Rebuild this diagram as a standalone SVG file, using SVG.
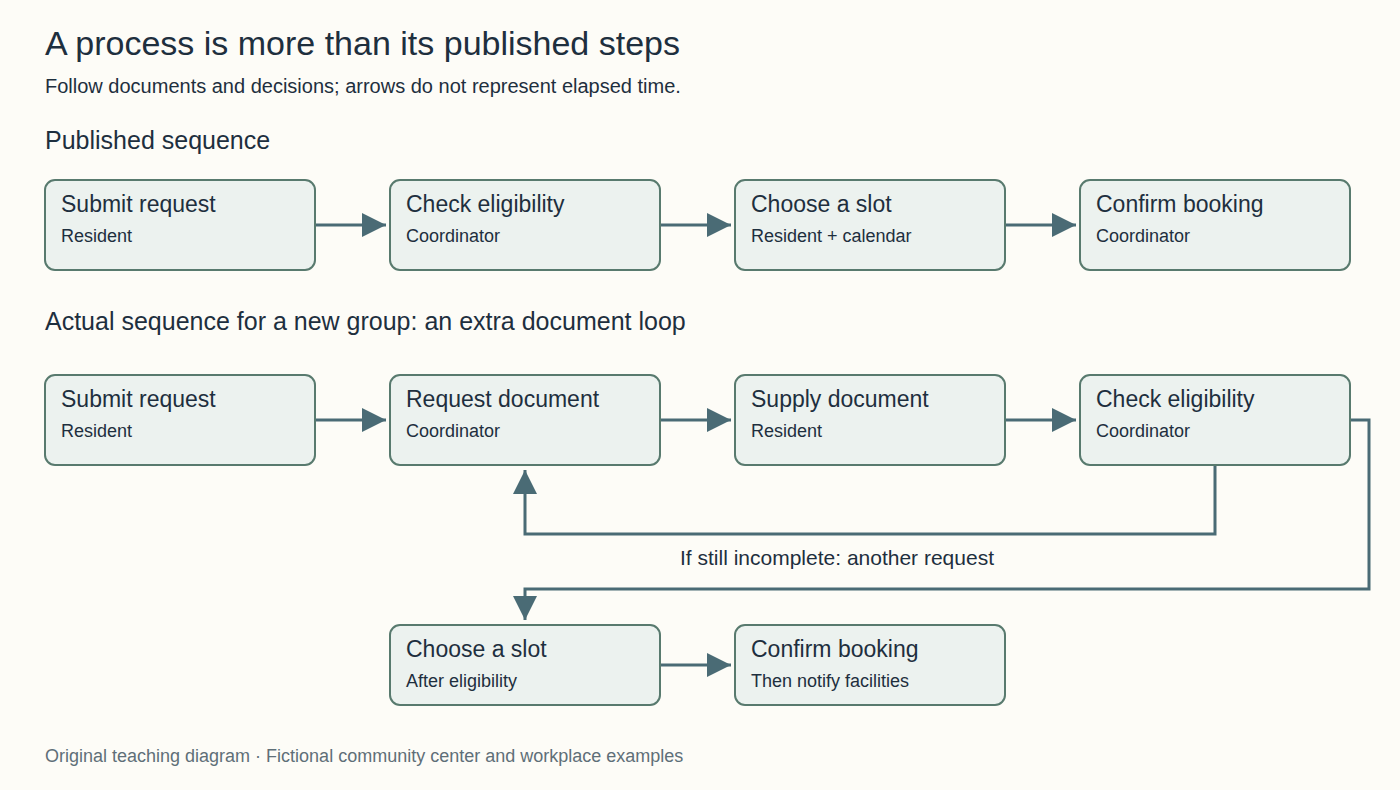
<svg xmlns="http://www.w3.org/2000/svg" width="1400" height="790" viewBox="0 0 1400 790">
<style>
text{font-family:"Liberation Sans",Arial,sans-serif;fill:#1e2f3e}
.title{font-size:34px}
.sub{font-size:20px}
.sec{font-size:25px}
.nt{font-size:23px}
.ns{font-size:18px}
.foot{font-size:18px;fill:#5f6f78}
.lbl{font-size:21px}
.box{fill:#ecf2ef;stroke:#587a6e;stroke-width:2}
.c{fill:none;stroke:#4a6b75;stroke-width:3}
</style>
<defs>
<marker id="ah" viewBox="0 0 24 24" refX="24" refY="12" markerWidth="24" markerHeight="24" markerUnits="userSpaceOnUse" orient="auto">
<path d="M0,0 L24,12 L0,24 Z" fill="#4a6b75"/>
</marker>
</defs>
<rect width="1400" height="790" fill="#fdfcf7"/>
<text class="title" x="45" y="55">A process is more than its published steps</text>
<text class="sub" x="45" y="93">Follow documents and decisions; arrows do not represent elapsed time.</text>
<text class="sec" x="45" y="149">Published sequence</text>
<text class="sec" x="45" y="330">Actual sequence for a new group: an extra document loop</text>

<g id="connectors">
<line class="c" x1="315" y1="225" x2="386" y2="225" marker-end="url(#ah)"/>
<line class="c" x1="660" y1="225" x2="731" y2="225" marker-end="url(#ah)"/>
<line class="c" x1="1005" y1="225" x2="1076" y2="225" marker-end="url(#ah)"/>
<line class="c" x1="315" y1="420" x2="386" y2="420" marker-end="url(#ah)"/>
<line class="c" x1="660" y1="420" x2="731" y2="420" marker-end="url(#ah)"/>
<line class="c" x1="1005" y1="420" x2="1076" y2="420" marker-end="url(#ah)"/>
<path class="c" d="M1215,465 V534 H525 V470" marker-end="url(#ah)"/>
<path class="c" d="M1350,420 H1369 V589 H525 V620" marker-end="url(#ah)"/>
<line class="c" x1="660" y1="665" x2="731" y2="665" marker-end="url(#ah)"/>
<text class="lbl" x="837" y="565" text-anchor="middle">If still incomplete: another request</text>
</g>

<g id="p1"><rect class="box" x="45" y="180" width="270" height="90" rx="10"/><text class="nt" x="61" y="212">Submit request</text><text class="ns" x="61" y="242">Resident</text></g>
<g id="p2"><rect class="box" x="390" y="180" width="270" height="90" rx="10"/><text class="nt" x="406" y="212">Check eligibility</text><text class="ns" x="406" y="242">Coordinator</text></g>
<g id="p3"><rect class="box" x="735" y="180" width="270" height="90" rx="10"/><text class="nt" x="751" y="212">Choose a slot</text><text class="ns" x="751" y="242">Resident + calendar</text></g>
<g id="p4"><rect class="box" x="1080" y="180" width="270" height="90" rx="10"/><text class="nt" x="1096" y="212">Confirm booking</text><text class="ns" x="1096" y="242">Coordinator</text></g>

<g id="a1"><rect class="box" x="45" y="375" width="270" height="90" rx="10"/><text class="nt" x="61" y="407">Submit request</text><text class="ns" x="61" y="437">Resident</text></g>
<g id="a2"><rect class="box" x="390" y="375" width="270" height="90" rx="10"/><text class="nt" x="406" y="407">Request document</text><text class="ns" x="406" y="437">Coordinator</text></g>
<g id="a3"><rect class="box" x="735" y="375" width="270" height="90" rx="10"/><text class="nt" x="751" y="407">Supply document</text><text class="ns" x="751" y="437">Resident</text></g>
<g id="a4"><rect class="box" x="1080" y="375" width="270" height="90" rx="10"/><text class="nt" x="1096" y="407">Check eligibility</text><text class="ns" x="1096" y="437">Coordinator</text></g>
<g id="a5"><rect class="box" x="390" y="625" width="270" height="80" rx="10"/><text class="nt" x="406" y="657">Choose a slot</text><text class="ns" x="406" y="687">After eligibility</text></g>
<g id="a6"><rect class="box" x="735" y="625" width="270" height="80" rx="10"/><text class="nt" x="751" y="657">Confirm booking</text><text class="ns" x="751" y="687">Then notify facilities</text></g>

<text class="foot" x="45" y="762">Original teaching diagram · Fictional community center and workplace examples</text>
</svg>
